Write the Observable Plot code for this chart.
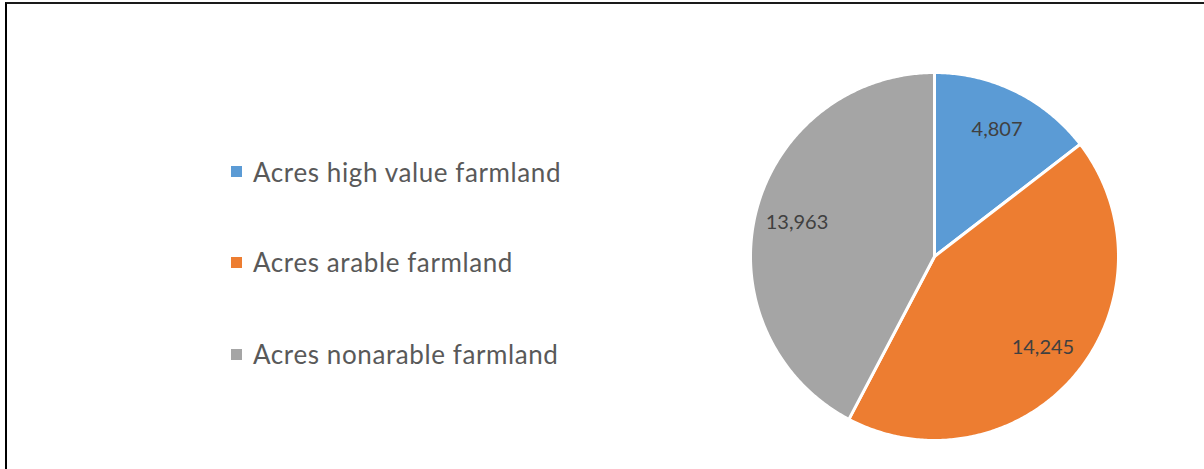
<!DOCTYPE html>
<html>
<head>
<meta charset="utf-8">
<script src="https://cdn.jsdelivr.net/npm/d3@7"></script>
<script src="https://cdn.jsdelivr.net/npm/@observablehq/plot@0.6"></script>
<style>
  html, body { margin: 0; padding: 0; background: #fff; }
  #wrap { position: relative; width: 1204px; height: 469px; overflow: hidden; font-family: Lato, "Open Sans", sans-serif; }
  #frame { position: absolute; left: 5px; top: 2px; width: 1300px; height: 600px; border-top: 2px solid #1a1a1a; border-left: 2px solid #000; }
  #chart { position: absolute; left: 0; top: 0; }
  .lg { position: absolute; left: 231px; height: 30px; display: flex; align-items: center; color: #595959; font-size: 26px; letter-spacing: 0.6px; white-space: nowrap; }
  .lg .sw { width: 11px; height: 11px; margin-right: 11px; }
</style>
</head>
<body>
<div id="wrap">
  <div id="frame"></div>
  <div id="chart"></div>
  <div id="legend"></div>
</div>
<script>
const categories = ["Acres high value farmland", "Acres arable farmland", "Acres nonarable farmland"];
const values = [4807, 14245, 13963];
const labels = ["4,807", "14,245", "13,963"];
const colors = ["#5B9BD5", "#ED7D31", "#A5A5A5"];

const rows = categories.map((c, i) => ({category: c, value: values[i], label: labels[i]}));
const arcs = d3.pie().sort(null).value(d => d.value)(rows);

// slice polygons in unit coordinates (angle clockwise from north, y up)
const pt = (a, r = 1) => [r * Math.sin(a), r * Math.cos(a)];
const slices = arcs.map(a => {
  const n = Math.max(8, Math.ceil((a.endAngle - a.startAngle) / 0.01));
  const ring = [[0, 0]];
  for (let k = 0; k <= n; k++) ring.push(pt(a.startAngle + (a.endAngle - a.startAngle) * k / n));
  ring.push([0, 0]);
  return {category: a.data.category, geometry: {type: "Polygon", coordinates: [ring]}};
});
const textPos = arcs.map(a => {
  const m = (a.startAngle + a.endAngle) / 2;
  const [x, y] = pt(m, 0.77);
  return {x, y, label: a.data.label};
});

const chart = Plot.plot({
  width: 1204,
  height: 469,
  marginLeft: 750,
  marginRight: 86,
  marginTop: 72,
  marginBottom: 29,
  projection: {type: "reflect-y", domain: {type: "MultiPoint", coordinates: [[-1, -1], [1, 1]]}},
  color: {domain: categories, range: colors},
  marks: [
    Plot.geo(slices, {geometry: "geometry", fill: "category", stroke: "#fff", strokeWidth: 3, strokeLinejoin: "round"}),
    Plot.text(textPos, {x: "x", y: "y", text: "label", fill: "#404040", fontSize: 20, fontFamily: "Lato, 'Open Sans', sans-serif"})
  ]
});
chart.style.background = "transparent";
document.getElementById("chart").append(chart);

const legendTops = [156.5, 247, 339];
const lg = document.getElementById("legend");
categories.forEach((c, i) => {
  const row = document.createElement("div");
  row.className = "lg";
  row.style.top = legendTops[i] + "px";
  const sw = document.createElement("span");
  sw.className = "sw";
  sw.style.background = colors[i];
  const t = document.createElement("span");
  t.textContent = c;
  row.append(sw, t);
  lg.append(row);
});
</script>
</body>
</html>
